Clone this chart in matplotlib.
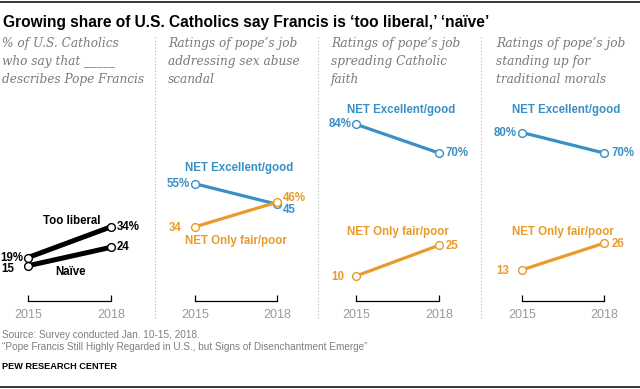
import matplotlib
matplotlib.use("Agg")
import matplotlib.pyplot as plt
from matplotlib.lines import Line2D

W, H = 640, 389

years = ["2015", "2018"]
too_liberal = [19, 34]
naive = [15, 24]
sex_abuse_good = [55, 45]
sex_abuse_poor = [34, 46]
spreading_good = [84, 70]
spreading_poor = [10, 25]
morals_good = [80, 70]
morals_poor = [13, 26]

title = "Growing share of U.S. Catholics say Francis is \u2018too liberal,\u2019 \u2018na\u00efve\u2019"
subtitles = [
    "% of U.S. Catholics\nwho say that _____\ndescribes Pope Francis",
    "Ratings of pope\u2019s job\naddressing sex abuse\nscandal",
    "Ratings of pope\u2019s job\nspreading Catholic\nfaith",
    "Ratings of pope\u2019s job\nstanding up for\ntraditional morals",
]

BLUE = "#3a8fc4"
ORANGE = "#e99a2a"
BLACK = "#000000"

SANS = ["Liberation Sans", "DejaVu Sans"]
SERIF = ["DejaVu Serif"]
LFS = 8.3

fig = plt.figure(figsize=(W / 100, H / 100), dpi=100)


def fx(px):
    return px / W


def fy(py):
    return 1 - py / H


# rules
fig.add_artist(Line2D([0, 1], [fy(1.5), fy(1.5)], color="black", lw=1.1))
fig.add_artist(Line2D([0, 1], [fy(386.8), fy(386.8)], color="black", lw=1.1))

fig.text(fx(3), fy(27.5), title, fontsize=11.2, fontweight="bold",
         family=SANS, color="black", va="baseline", ha="left")

sub_x = [2, 168, 331, 496]
for sx, st in zip(sub_x, subtitles):
    fig.text(fx(sx), fy(37), st, fontsize=8.75, style="italic", family=SERIF,
             color="#7a7a7a", va="top", ha="left", linespacing=1.5)

for dx in [154.5, 318, 481]:
    fig.add_artist(Line2D([fx(dx), fx(dx)], [fy(37), fy(320)], color="#b5b5b5",
                          lw=0.8, linestyle=(0, (1, 2))))

# panel axes geometry (px)
panels = [(28, 111), (195, 277), (356, 439), (522, 604)]
y_bottom_px, y_top_px = 301, 100
# value -> px mapping: y = 296.5 - 2.05 v
v_bottom = (296.5 - y_bottom_px) / 2.05
v_top = (296.5 - y_top_px) / 2.05

axes = []
for (x0, x1) in panels:
    ax = fig.add_axes([fx(x0), fy(y_bottom_px), (x1 - x0) / W, (y_bottom_px - y_top_px) / H])
    ax.set_xlim(0, 1)
    ax.set_ylim(v_bottom, v_top)
    ax.patch.set_visible(False)
    for s in ["top", "left", "right"]:
        ax.spines[s].set_visible(False)
    ax.spines["bottom"].set_color("black")
    ax.spines["bottom"].set_linewidth(0.9)
    ax.set_yticks([])
    ax.set_xticks([0, 1])
    ax.set_xticklabels(years, family=SANS, fontsize=9, color="#9a9a9a")
    ax.tick_params(axis="x", direction="in", length=4, width=0.9, color="black", pad=6)
    axes.append(ax)

X = [0, 1]


def series(ax, vals, color, lw):
    ax.plot(X, vals, color=color, lw=lw, solid_capstyle="butt", zorder=2, clip_on=False)
    ax.plot(X, vals, linestyle="none", marker="o", markersize=5.6, markerfacecolor="white",
            markeredgecolor=color, markeredgewidth=1.0, zorder=3, clip_on=False)


def ann(ax, x, v, text, dx, dy, ha, color):
    ax.annotate(text, xy=(x, v), xytext=(dx * 0.72, -dy * 0.72), textcoords="offset points",
                ha=ha, va="center", fontsize=LFS, fontweight="bold", family=SANS, color=color,
                annotation_clip=False)


def flabel(px, py, text, color):
    fig.text(fx(px), fy(py), text, ha="center", va="center", fontsize=LFS,
             fontweight="bold", family=SANS, color=color)


# Panel 1
ax = axes[0]
series(ax, too_liberal, BLACK, 3.6)
series(ax, naive, BLACK, 3.6)
ann(ax, 0, too_liberal[0], f"{too_liberal[0]}%", -5, 0, "right", BLACK)
ann(ax, 0, naive[0], f"{naive[0]}", -14, 3, "right", BLACK)
ann(ax, 1, too_liberal[1], f"{too_liberal[1]}%", 6, 0, "left", BLACK)
ann(ax, 1, naive[1], f"{naive[1]}", 6, 0, "left", BLACK)
flabel(72, 221, "Too liberal", BLACK)
flabel(71, 272, "Na\u00efve", BLACK)

# Panel 2
ax = axes[1]
series(ax, sex_abuse_good, BLUE, 2.3)
series(ax, sex_abuse_poor, ORANGE, 2.3)
ann(ax, 0, sex_abuse_good[0], f"{sex_abuse_good[0]}%", -5, 0, "right", BLUE)
ann(ax, 0, sex_abuse_poor[0], f"{sex_abuse_poor[0]}", -13, 1, "right", ORANGE)
ann(ax, 1, sex_abuse_poor[1], f"{sex_abuse_poor[1]}%", 6, -4, "left", ORANGE)
ann(ax, 1, sex_abuse_good[1], f"{sex_abuse_good[1]}", 6, 6, "left", BLUE)
flabel(239, 168, "NET Excellent/good", BLUE)
flabel(235.5, 241, "NET Only fair/poor", ORANGE)

# Panel 3
ax = axes[2]
series(ax, spreading_good, BLUE, 2.3)
series(ax, spreading_poor, ORANGE, 2.3)
ann(ax, 0, spreading_good[0], f"{spreading_good[0]}%", -4.5, 0, "right", BLUE)
ann(ax, 1, spreading_good[1], f"{spreading_good[1]}%", 6, 0, "left", BLUE)
ann(ax, 0, spreading_poor[0], f"{spreading_poor[0]}", -12, 0.5, "right", ORANGE)
ann(ax, 1, spreading_poor[1], f"{spreading_poor[1]}", 7, 0.5, "left", ORANGE)
flabel(401.5, 110, "NET Excellent/good", BLUE)
flabel(397.5, 232, "NET Only fair/poor", ORANGE)

# Panel 4
ax = axes[3]
series(ax, morals_good, BLUE, 2.3)
series(ax, morals_poor, ORANGE, 2.3)
ann(ax, 0, morals_good[0], f"{morals_good[0]}%", -5, 0, "right", BLUE)
ann(ax, 1, morals_good[1], f"{morals_good[1]}%", 7, 0, "left", BLUE)
ann(ax, 0, morals_poor[0], f"{morals_poor[0]}", -13, 1, "right", ORANGE)
ann(ax, 1, morals_poor[1], f"{morals_poor[1]}", 8, 1, "left", ORANGE)
flabel(566.5, 110, "NET Excellent/good", BLUE)
flabel(562.5, 232, "NET Only fair/poor", ORANGE)

# Footer
fig.text(fx(2), fy(335), "Source: Survey conducted Jan. 10-15, 2018.", fontsize=7.2,
         family=SANS, color="#7f7f7f", va="center", ha="left")
fig.text(fx(2), fy(347), "\u201cPope Francis Still Highly Regarded in U.S., but Signs of Disenchantment Emerge\u201d",
         fontsize=7.2, family=SANS, color="#7f7f7f", va="center", ha="left")
fig.text(fx(2), fy(366.5), "PEW RESEARCH CENTER", fontsize=6.6, fontweight="bold",
         family=SANS, color="black", va="center", ha="left")

fig.savefig("out.png", dpi=100)
